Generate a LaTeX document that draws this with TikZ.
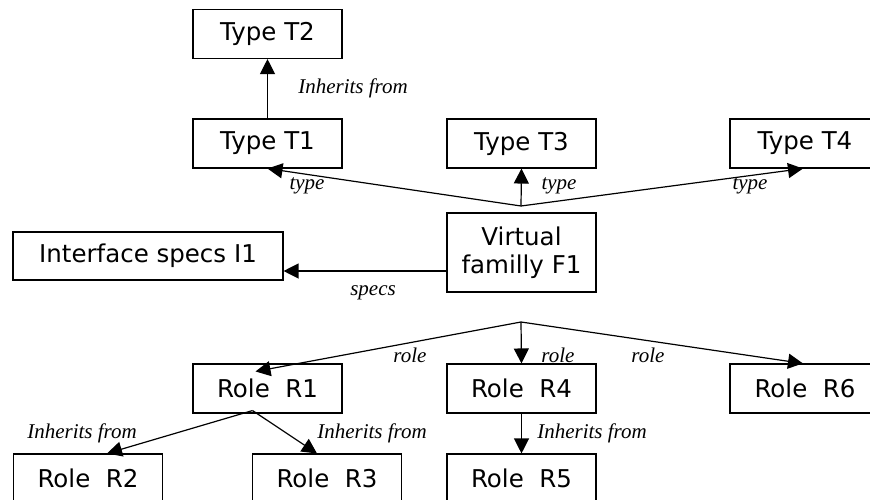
\documentclass[tikz,border=0pt]{standalone}
\usepackage{fontspec}
\setmainfont{Liberation Serif}
\newfontfamily\boxfont{DejaVu Sans}
\usetikzlibrary{arrows.meta,calc}
\begin{document}
\begin{tikzpicture}[x=1pt,y=-1pt,
  box/.style={draw,line width=1.1pt,minimum width=149pt,minimum height=49pt,inner sep=0pt,align=center,font=\boxfont\fontsize{24.5}{28}\selectfont},
  lbl/.style={inner sep=0pt,font=\itshape\fontsize{21}{24}\selectfont},
  arr/.style={line width=1.2pt,-{Triangle[length=15pt,width=15pt]}}]
\useasboundingbox (0,0) rectangle (870,500);
\clip (0,0) rectangle (870,500);
\fill[white] (0,0) rectangle (870,500);
% type boxes
\node[box] (T2) at (267.5,34) {Type T2};
\node[box] (T1) at (267.5,143.5) {Type T1};
\node[box] (T3) at (521.5,143.5) {Type T3};
\node[box,minimum width=150pt] (T4) at (805,143.5) {Type T4};
\node[box,minimum height=79pt] (F1) at (521.5,252.5) {Virtual\\familly F1};
\node[box,minimum width=270pt,minimum height=48pt] (I1) at (148,256) {Interface specs I1};
% role boxes
\node[box] (R1) at (267.5,388.5) {Role~~R1};
\node[box] (R4) at (521.5,388.5) {Role~~R4};
\node[box,minimum width=150pt] (R6) at (805,388.5) {Role~~R6};
\node[box] (R2) at (88,478.5) {Role~~R2};
\node[box] (R3) at (327,478.5) {Role~~R3};
\node[box] (R5) at (521.5,478.5) {Role~~R5};
% junctions
\coordinate (jt) at (521,206);
\coordinate (jr) at (521,322);
% connectors
\draw[arr] (T1.north) -- (T2.south);
\draw[arr] (jt) -- (T1.south);
\draw[arr] (jt) -- (T3.south);
\draw[arr] (jt) -- ([xshift=-2pt]T4.south);
\draw[arr] ([yshift=-18.5pt]F1.west) -- ([yshift=-18.5pt]F1.west -| I1.east);
\draw[arr] (jr) -- ([xshift=-12pt,yshift=-8pt]R1.north);
\draw[arr] (jr) -- (R4.north);
\draw[arr] (jr) -- ([xshift=-2pt]R6.north);
\draw[arr] ([xshift=-15pt,yshift=3pt]R1.south) -- ([xshift=19pt]R2.north);
\draw[arr] ([xshift=-15pt,yshift=3pt]R1.south) -- ([xshift=-10pt]R3.north);
\draw[arr] (R4.south) -- (R5.north);
% labels
\node[lbl] (l1) at (353,88) {Inherits from};
\node[lbl] (l2) at (307,186) {type};
\node[lbl] (l3) at (559,186) {type};
\node[lbl] (l4) at (750,186) {type};
\node[lbl] (l5) at (373,293) {specs};
\node[lbl] (l6) at (410,355) {role};
\node[lbl] (l7) at (558,355) {role};
\node[lbl] (l8) at (648,355) {role};
\node[lbl] (l9) at (82,433) {Inherits from};
\node[lbl] (l10) at (372,433) {Inherits from};
\node[lbl] (l11) at (592,433) {Inherits from};
\end{tikzpicture}
\end{document}
